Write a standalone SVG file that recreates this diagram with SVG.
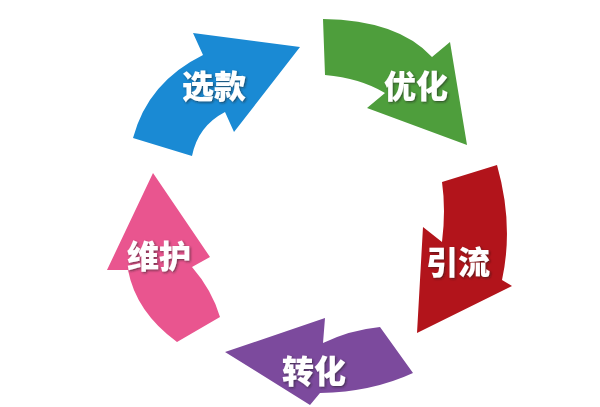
<svg xmlns="http://www.w3.org/2000/svg" width="600" height="407" viewBox="0 0 600 407">
<defs>
<filter id="sh" x="-20%" y="-20%" width="140%" height="140%">
<feDropShadow dx="1.2" dy="1.2" stdDeviation="0.8" flood-color="#222" flood-opacity="0.6"/>
</filter>
<style>
.lbl{font-family:"Noto Sans CJK SC","Noto Sans CJK JP",sans-serif;font-weight:900;font-size:32px;fill:#fff;text-anchor:middle;filter:url(#sh)}
</style>
</defs>
<rect width="600" height="407" fill="#fff"/>
<g id="node-xuankuan">
<path d="M133,138 Q148,82 203,55 L193,33 L300,47 L234,132 L225,112 Q198,126 192,156 Z" fill="#1a8ad4"/>
<text class="lbl" x="214" y="98">选款</text>
</g>
<g id="node-youhua">
<path d="M323,19 Q398,20 432,57 L450,42 L467,145 L367,108 L385,93 Q360,78 325,75 Z" fill="#4e9e3c"/>
<text class="lbl" x="416" y="98">优化</text>
</g>
<g id="node-yinliu">
<path d="M442,182 L497,165 Q514,225 502,280 L512,286 L417,333 L423,227 L442,242 Q446,210 442,182 Z" fill="#b2141b"/>
<text class="lbl" x="458" y="274">引流</text>
</g>
<g id="node-zhuanhua">
<path d="M380,327 Q350,330 323,343 L325,318 L225,352 L310,405 L320,393 Q372,392 413,373 Z" fill="#7c4a9d"/>
<text class="lbl" x="314" y="383">转化</text>
</g>
<g id="node-weihu">
<path d="M153,173 L210,257 L192,267 Q212,290 220,317 L177,342 Q136,312 128,270 L107,270 Z" fill="#e9558f"/>
<text class="lbl" x="159" y="268">维护</text>
</g>
</svg>
